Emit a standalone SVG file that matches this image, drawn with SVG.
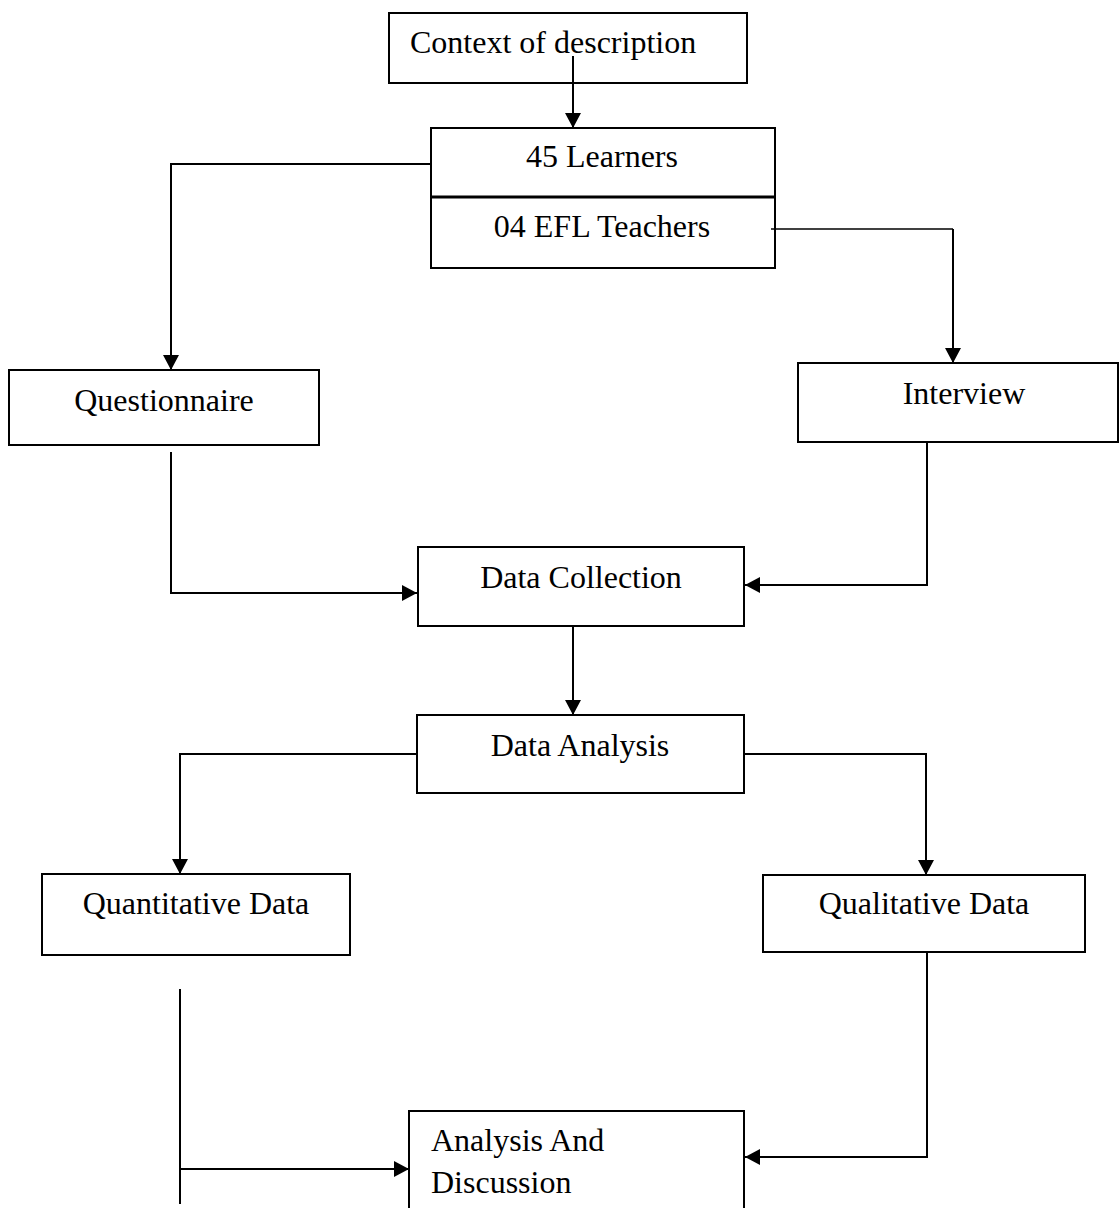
<svg xmlns="http://www.w3.org/2000/svg" width="1119" height="1208" viewBox="0 0 1119 1208">
<defs>
<style>
.box{fill:#fff;stroke:#000;stroke-width:2}
.t{font-family:"Liberation Serif","Times New Roman",serif;font-size:32px;fill:#000}
.c{text-anchor:middle}
.ln{fill:none;stroke:#000;stroke-width:2}
.thin{fill:none;stroke:#000;stroke-width:1.3}
</style>
<marker id="ah" markerUnits="userSpaceOnUse" markerWidth="16" markerHeight="16" refX="15" refY="8" orient="auto">
<path d="M0,0 L15,8 L0,16 z" fill="#000"/>
</marker>
</defs>
<rect width="1119" height="1208" fill="#fff"/>
<g id="n-context"><rect class="box" x="389" y="13" width="358" height="70"/><text class="t" x="410" y="53">Context of description</text></g>
<g id="n-participants"><rect class="box" x="431" y="128" width="344" height="140"/><line x1="431" y1="197" x2="775" y2="197" stroke="#000" stroke-width="3"/><text class="t c" x="602" y="167">45 Learners</text><text class="t c" x="602" y="237">04 EFL Teachers</text></g>
<g id="n-questionnaire"><rect class="box" x="9" y="370" width="310" height="75"/><text class="t c" x="164" y="411">Questionnaire</text></g>
<g id="n-interview"><rect class="box" x="798" y="363" width="320" height="79"/><text class="t c" x="964" y="404">Interview</text></g>
<g id="n-collection"><rect class="box" x="418" y="547" width="326" height="79"/><text class="t c" x="581" y="588">Data Collection</text></g>
<g id="n-analysis"><rect class="box" x="417" y="715" width="327" height="78"/><text class="t c" x="580" y="756">Data Analysis</text></g>
<g id="n-quant"><rect class="box" x="42" y="874" width="308" height="81"/><text class="t c" x="196" y="914">Quantitative Data</text></g>
<g id="n-qual"><rect class="box" x="763" y="875" width="322" height="77"/><text class="t c" x="924" y="914">Qualitative Data</text></g>
<g id="n-discussion"><rect class="box" x="409" y="1111" width="335" height="110"/><text class="t" x="431" y="1151">Analysis And</text><text class="t" x="431" y="1193">Discussion</text></g>
<g id="connectors">
<path class="ln" d="M573,56 V128" marker-end="url(#ah)"/>
<path class="ln" d="M431,164 H171 V370" marker-end="url(#ah)"/>
<path class="thin" d="M771,229 H953"/>
<path class="ln" d="M953,229 V363" marker-end="url(#ah)"/>
<path class="ln" d="M171,452 V593 H417" marker-end="url(#ah)"/>
<path class="ln" d="M927,442 V585 H745" marker-end="url(#ah)"/>
<path class="ln" d="M573,626 V715" marker-end="url(#ah)"/>
<path class="ln" d="M417,754 H180 V874" marker-end="url(#ah)"/>
<path class="ln" d="M744,754 H926 V875" marker-end="url(#ah)"/>
<path class="ln" d="M180,989 V1204"/>
<path class="ln" d="M180,1169 H409" marker-end="url(#ah)"/>
<path class="ln" d="M927,952 V1157 H745" marker-end="url(#ah)"/>
</g>
</svg>
